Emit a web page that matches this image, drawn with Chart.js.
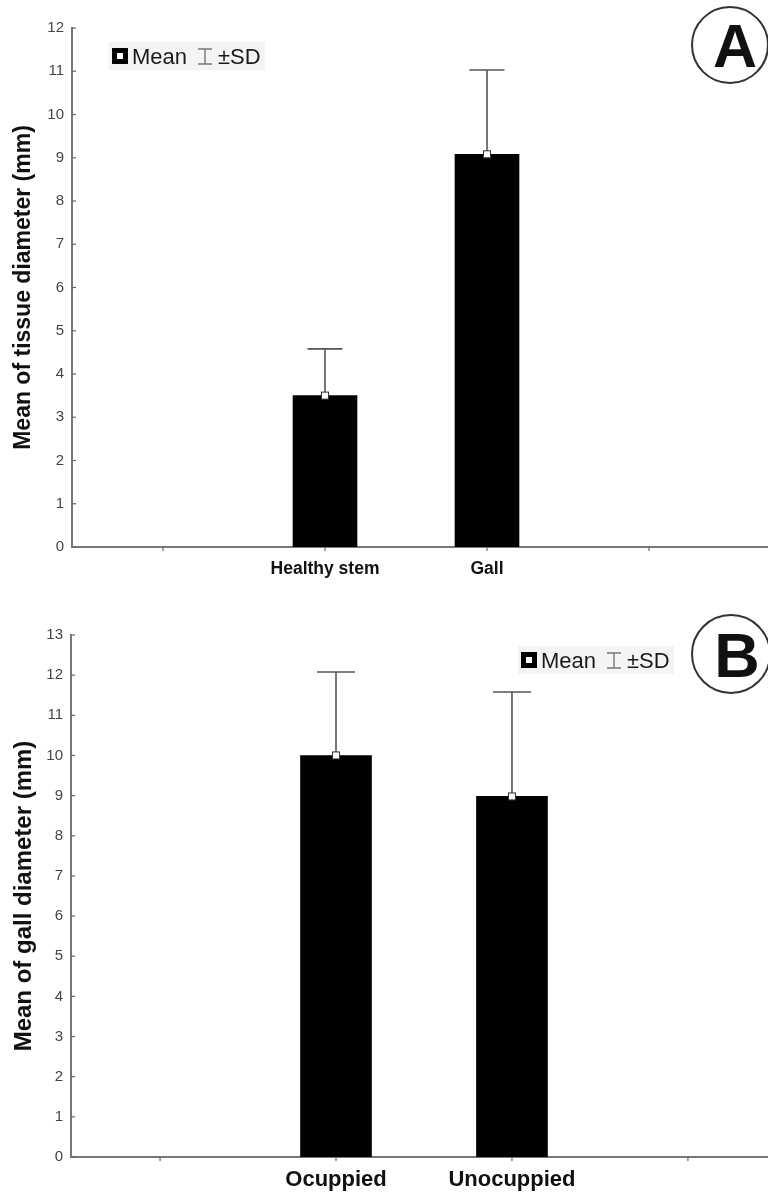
<!DOCTYPE html>
<html><head><meta charset="utf-8">
<script src="https://cdn.jsdelivr.net/npm/chart.js@4"></script>
<style>html,body{margin:0;padding:0;background:#fff;}canvas{position:absolute;left:0;}#a{top:0}#b{top:600px}</style>
</head><body>
<canvas id="a" width="768" height="600"></canvas>
<canvas id="b" width="768" height="592"></canvas>
<script>
const FONT = '"Liberation Sans", Arial, Helvetica, sans-serif';

// Panel A
const catsA = ["Healthy stem", "Gall"];
const posA = [1, 2];
const meanA = [3.5, 9.08];
const sdA = [1.08, 1.95];
const xTicksA = [0, 1, 2, 3];
// Panel B
const catsB = ["Ocuppied", "Unocuppied"];
const posB = [1, 2];
const meanB = [10.0, 8.98];
const sdB = [2.08, 2.6];
const xTicksB = [0, 1, 2, 3];

function makeChart(id, p) {
  const decor = {
    id: 'decor' + id,
    afterDatasetsDraw(chart) {
      const ctx = chart.ctx, ys = chart.scales.y, xs = chart.scales.x;
      const meta = chart.getDatasetMeta(0);
      ctx.save();
      ctx.strokeStyle = '#666'; ctx.lineWidth = 1.2;
      ys.ticks.forEach(t => { const y = ys.getPixelForValue(t.value); ctx.beginPath(); ctx.moveTo(ys.right, y); ctx.lineTo(ys.right + 4, y); ctx.stroke(); });
      xs.ticks.forEach(t => { const x = xs.getPixelForValue(t.value); ctx.beginPath(); ctx.moveTo(x, xs.top); ctx.lineTo(x, xs.top + 4); ctx.stroke(); });
      // error bars + mean markers
      meta.data.forEach((el, i) => {
        const m = p.means[i], s = p.sds[i];
        const x = el.x, ym = ys.getPixelForValue(m), yt = ys.getPixelForValue(m + s);
        ctx.strokeStyle = '#555'; ctx.lineWidth = 1.6;
        ctx.beginPath(); ctx.moveTo(x, ym); ctx.lineTo(x, yt); ctx.stroke();
        ctx.beginPath(); ctx.moveTo(x - p.capW / 2, yt); ctx.lineTo(x + p.capW / 2, yt); ctx.stroke();
        ctx.fillStyle = '#fff'; ctx.strokeStyle = '#333'; ctx.lineWidth = 1;
        ctx.fillRect(x - 3.5, ym - 3.5, 7, 7); ctx.strokeRect(x - 3.5, ym - 3.5, 7, 7);
      });
      // legend
      const L = p.legend;
      ctx.fillStyle = '#f4f4f4'; ctx.fillRect(L.x - 3, L.base - 22, 156, 28);
      ctx.fillStyle = '#000'; ctx.fillRect(L.x, L.base - 16, 16, 16);
      ctx.fillStyle = '#fff'; ctx.fillRect(L.x + 5, L.base - 11, 6, 6);
      ctx.fillStyle = '#1a1a1a'; ctx.font = '22px ' + FONT; ctx.textBaseline = 'alphabetic'; ctx.textAlign = 'left';
      ctx.fillText('Mean', L.x + 20, L.base);
      const ix = L.x + 93;
      ctx.strokeStyle = '#777'; ctx.lineWidth = 1.4;
      ctx.beginPath(); ctx.moveTo(ix - 7, L.base - 15); ctx.lineTo(ix + 7, L.base - 15);
      ctx.moveTo(ix, L.base - 15); ctx.lineTo(ix, L.base);
      ctx.moveTo(ix - 7, L.base); ctx.lineTo(ix + 7, L.base); ctx.stroke();
      ctx.fillStyle = '#1a1a1a'; ctx.fillText('\u00B1SD', L.x + 106, L.base);
      // badge
      const B = p.badge;
      ctx.strokeStyle = '#333'; ctx.lineWidth = 2;
      ctx.beginPath(); ctx.arc(B.cx, B.cy, B.r, 0, Math.PI * 2); ctx.stroke();
      ctx.fillStyle = '#111'; ctx.font = 'bold ' + B.size + 'px ' + FONT; ctx.textAlign = 'center';
      ctx.fillText(B.text, B.tx, B.base);
      ctx.restore();
    }
  };
  return new Chart(document.getElementById(id), {
    type: 'bar',
    data: { datasets: [{ data: p.pos.map((x, i) => ({ x: x, y: p.means[i] })), backgroundColor: '#000', borderWidth: 0, barThickness: p.barW }] },
    options: {
      responsive: false, animation: false, devicePixelRatio: 1,
      layout: { padding: { top: p.top, right: 0, left: 0, bottom: 0 } },
      plugins: { legend: { display: false }, tooltip: { enabled: false } },
      scales: {
        x: {
          type: 'linear', min: p.xmin, max: p.xmax, offset: false,
          afterBuildTicks: s => { s.ticks = p.xTicks.map(v => ({ value: v })); },
          afterFit: s => { s.height = p.xh; },
          grid: { display: false, drawTicks: false, offset: false },
          border: { display: true, color: '#777', width: 2 },
          ticks: { padding: p.xpad, color: '#111', font: { family: FONT, size: p.xfs, weight: 'bold' }, maxRotation: 0, autoSkip: false,
            callback: v => { const k = p.pos.indexOf(v); return k >= 0 ? p.cats[k] : ''; } }
        },
        y: {
          min: 0, max: p.ymax,
          afterFit: s => { s.width = p.yw; },
          grid: { display: false, drawTicks: false },
          border: { display: true, color: '#777', width: 2 },
          ticks: { stepSize: 1, padding: 8, color: '#444', font: { family: FONT, size: 15 } },
          title: { display: true, text: p.title, color: '#111', font: { family: FONT, size: p.tfs, weight: 'bold' }, padding: { top: 10, bottom: 0 } }
        }
      }
    },
    plugins: [decor]
  });
}

makeChart('a', {
  cats: catsA, pos: posA, means: meanA, sds: sdA, xTicks: xTicksA,
  xmin: -0.5617, xmax: 3.7346, ymax: 12, barW: 64, capW: 35, top: 28, xh: 53, xpad: 12, xfs: 17.5, yw: 72,
  title: 'Mean of tissue diameter (mm)', tfs: 23,
  legend: { x: 112, base: 64 },
  badge: { cx: 730, cy: 45, r: 38, text: 'A', size: 61, tx: 735, base: 67 }
});
makeChart('b', {
  cats: catsB, pos: posB, means: meanB, sds: sdB, xTicks: xTicksB,
  xmin: -0.506, xmax: 3.455, ymax: 13, barW: 71, capW: 38, top: 35, xh: 35, xpad: 10, xfs: 22, yw: 71,
  title: 'Mean of gall diameter (mm)', tfs: 24,
  legend: { x: 521, base: 68 },
  badge: { cx: 731, cy: 54, r: 39, text: 'B', size: 63, tx: 737, base: 77 }
});
</script>
</body></html>
